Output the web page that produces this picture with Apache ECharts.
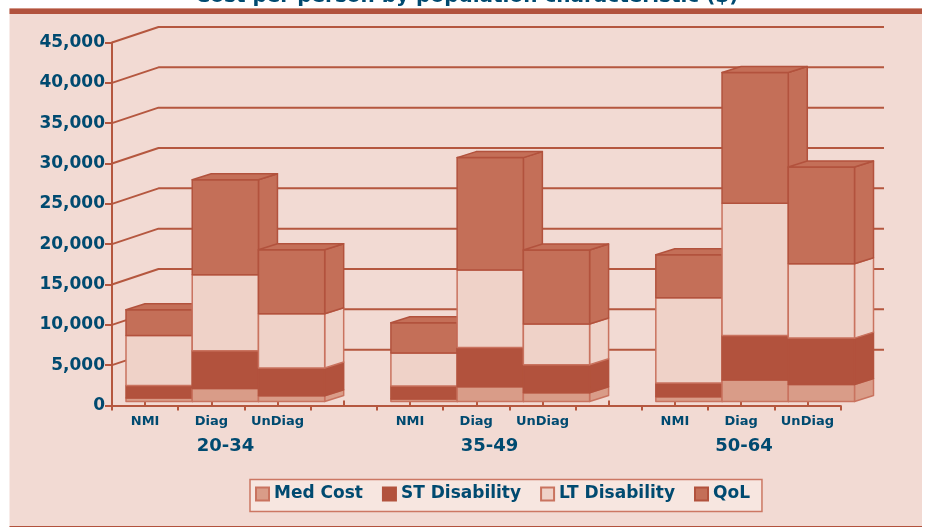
<!DOCTYPE html>
<html>
<head>
    <meta charset="utf-8"/>
    <title>Cost per person by population characteristic ($)</title>
    <script src="https://cdn.jsdelivr.net/npm/echarts@6/dist/echarts.min.js"></script>
    <style>
        html, body { margin: 0; padding: 0; background: #fff; }
        #myChart { width: 928px; height: 527px; }
    </style>
</head>
<body>
<div id="myChart"></div>
<script>
    // 数据
    var categories = ['NMI', 'Diag', 'UnDiag', '', 'NMI', 'Diag', 'UnDiag', '', 'NMI', 'Diag', 'UnDiag'];
    var yTicks = [5000, 10000, 15000, 20000, 25000, 30000, 35000, 40000, 45000];
    var groups = ['20-34', '35-49', '50-64'];
    var medCost = [420, 1610, 710, null, 300, 1820, 1080, null, 580, 2650, 2110];
    var stDisability = [1565, 4680, 3435, null, 1610, 4880, 3470, null, 1700, 5540, 5750];
    var ltDisability = [6205, 9430, 6735, null, 4090, 9600, 5050, null, 10570, 16380, 9220];
    var qol = [3190, 11780, 7940, null, 3760, 13935, 9180, null, 5350, 16210, 12000];

    var FONT = '"DejaVu Sans"';
    var TEXT = '#004a70';
    var LINE = '#b5573f';

    // 柱子正面相对坐标轴的偏移, 以及柱子的厚度
    var FRONT = [14, -4];
    var DEPTH = [19, -6];
    // 背景墙相对坐标轴的偏移
    var WALL = [46.5, -15.5];

    var poly = function (pts, fill, stroke, z2) {
        return {
            type: 'polygon',
            z2: z2,
            shape: {points: pts},
            style: {fill: fill, stroke: stroke, lineWidth: 1.5, lineJoin: 'round'}
        };
    };

    // 一段堆叠柱: 正面 + 右侧面, 最上面一段再加顶面
    var makeSeries = function (name, values, below, fill, stroke, isTop) {
        return {
            name: name,
            type: 'custom',
            z: 3,
            animation: false,
            itemStyle: {color: fill, borderColor: stroke, borderWidth: 1},
            data: values.map(function (v, i) {
                var base = 0;
                below.forEach(function (arr) { base += arr[i] || 0; });
                return [i, base, v == null ? null : base + v];
            }),
            encode: {x: 0, y: [1, 2]},
            renderItem: function (params, api) {
                if (api.value(2) == null || isNaN(api.value(2))) return;
                var idx = api.value(0);
                var w = api.size([1, 0])[0];
                var p0 = api.coord([idx, api.value(1)]);
                var p1 = api.coord([idx, api.value(2)]);
                var x0 = p0[0] - w / 2 + FRONT[0];
                var x1 = x0 + w;
                var yb = p0[1] + FRONT[1];
                var yt = p1[1] + FRONT[1];
                // 左边的柱子先画, 右边的盖住它的侧面
                var z2 = idx * 10 + below.length;
                var dx = DEPTH[0], dy = DEPTH[1];
                var faces = [
                    poly([[x1, yb], [x1 + dx, yb + dy], [x1 + dx, yt + dy], [x1, yt]], fill, stroke, z2),
                    poly([[x0, yb], [x1, yb], [x1, yt], [x0, yt]], fill, stroke, z2 + 1)
                ];
                if (isTop) {
                    faces.push(poly([[x0, yt], [x1, yt], [x1 + dx, yt + dy], [x0 + dx, yt + dy]], fill, stroke, z2 + 1));
                }
                return {type: 'group', children: faces};
            }
        };
    };

    // 背景网格线: 斜线 + 后墙横线
    var wallSeries = {
        type: 'custom',
        z: 1,
        animation: false,
        silent: true,
        data: yTicks.map(function (v) { return [0, v]; }),
        encode: {x: 0, y: 1},
        renderItem: function (params, api) {
            var rect = params.coordSys;
            var y = api.coord([0, api.value(1)])[1];
            var style = {stroke: LINE, lineWidth: 2, fill: null, lineJoin: 'round'};
            return {
                type: 'polyline',
                shape: {points: [
                    [rect.x, y],
                    [rect.x + WALL[0], y + WALL[1]],
                    [rect.x + rect.width + WALL[0] - 3, y + WALL[1]]
                ]},
                style: style
            };
        }
    };

    var myChart = echarts.init(document.getElementById('myChart'));
    var option = {
        animation: false,
        textStyle: {fontFamily: FONT},
        grid: {left: 112, right: 87.5, top: 42.5, bottom: 121.5},
        legend: {
            left: 250,
            top: 479.5,
            padding: [6, 12, 9, 5],
            itemWidth: 13,
            itemHeight: 13,
            itemGap: 19,
            backgroundColor: '#f7e6e0',
            borderColor: '#cc7763',
            borderWidth: 1.5,
            borderRadius: 0,
            textStyle: {color: TEXT, fontFamily: FONT, fontWeight: 'bold', fontSize: 17},
            data: ['Med Cost', 'ST Disability', 'LT Disability', 'QoL'].map(function (n) {
                return {name: n, icon: 'rect'};
            })
        },
        xAxis: [{
            type: 'category',
            data: categories,
            axisLine: {onZero: false, lineStyle: {color: LINE, width: 2}},
            axisTick: {show: true, length: 5, interval: 0, lineStyle: {color: LINE, width: 2}},
            axisLabel: {
                interval: 0,
                margin: 10,
                color: TEXT,
                fontFamily: FONT,
                fontWeight: 'bold',
                fontSize: 13
            }
        }, {
            // 类目中点的短刻度, 朝上
            type: 'category',
            position: 'bottom',
            data: categories,
            axisLine: {show: false},
            axisTick: {show: true, inside: true, alignWithLabel: true, length: 5, interval: 0, lineStyle: {color: LINE, width: 2}},
            axisLabel: {show: false}
        }],
        yAxis: {
            type: 'value',
            min: 0,
            max: 45000,
            interval: 5000,
            axisLine: {show: true, lineStyle: {color: LINE, width: 2}},
            axisTick: {show: true, length: 7, lineStyle: {color: LINE, width: 2}},
            splitLine: {show: false},
            axisLabel: {
                margin: 7,
                color: TEXT,
                fontFamily: FONT,
                fontWeight: 'bold',
                fontSize: 17,
                formatter: function (v) { return v.toLocaleString('en-US'); }
            }
        },
        graphic: [
            {type: 'rect', z: -10, shape: {x: 9.5, y: 8, width: 912.5, height: 519}, style: {fill: '#f2dad3'}},
            {type: 'rect', z: -9, shape: {x: 9.5, y: 8.5, width: 912.5, height: 5.5}, style: {fill: '#b2523d'}},
            {type: 'rect', z: -9, shape: {x: 9.5, y: 526, width: 912.5, height: 1}, style: {fill: '#b2523d'}},
            {type: 'text', z: 5, x: 467, y: 6.5, style: {
                text: 'Cost per person by population characteristic ($)',
                fill: TEXT, font: 'bold 20px ' + FONT, textAlign: 'center', textVerticalAlign: 'bottom'
            }},
            {type: 'text', z: 5, x: 225.5, y: 446, style: {text: groups[0], fill: TEXT, font: 'bold 18px ' + FONT, textAlign: 'center', textVerticalAlign: 'middle'}},
            {type: 'text', z: 5, x: 489.5, y: 446, style: {text: groups[1], fill: TEXT, font: 'bold 18px ' + FONT, textAlign: 'center', textVerticalAlign: 'middle'}},
            {type: 'text', z: 5, x: 744, y: 446, style: {text: groups[2], fill: TEXT, font: 'bold 18px ' + FONT, textAlign: 'center', textVerticalAlign: 'middle'}}
        ],
        series: [
            wallSeries,
            makeSeries('Med Cost', medCost, [], '#d99c88', '#c9735f', false),
            makeSeries('ST Disability', stDisability, [medCost], '#b2523d', '#b2523d', false),
            makeSeries('LT Disability', ltDisability, [medCost, stDisability], '#efd2c8', '#c9735f', false),
            makeSeries('QoL', qol, [medCost, stDisability, ltDisability], '#c46f58', '#b2523d', true)
        ]
    };
    myChart.setOption(option);
</script>
</body>
</html>
